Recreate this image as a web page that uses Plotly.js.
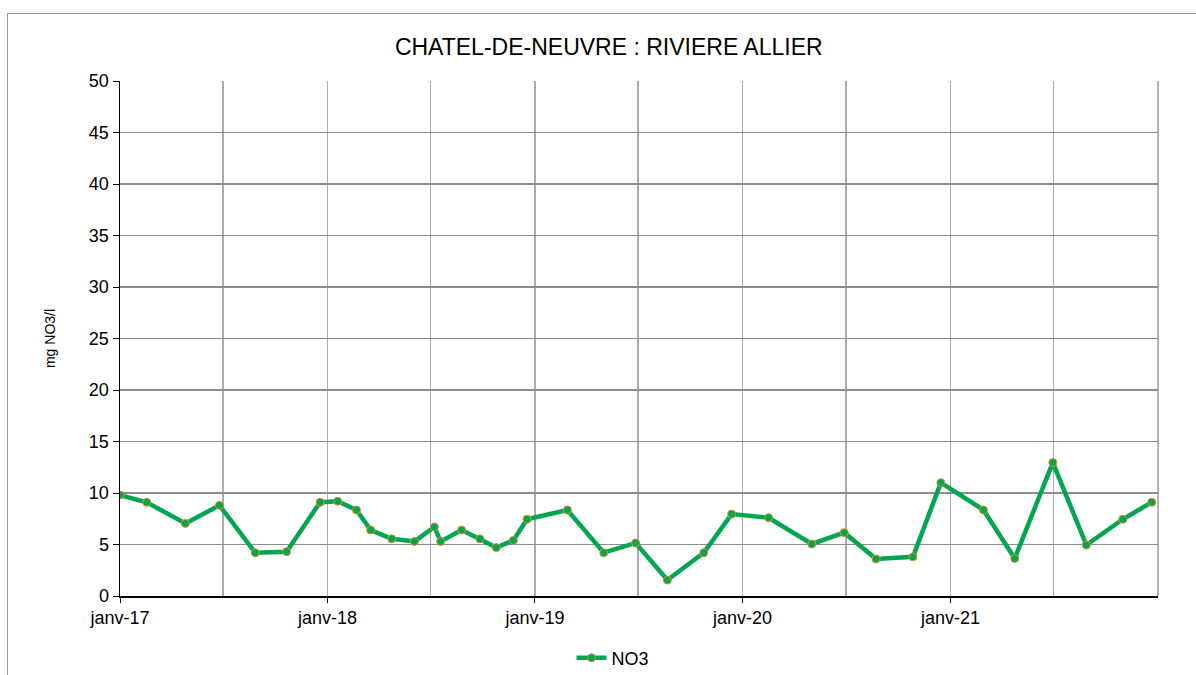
<!DOCTYPE html>
<html>
<head>
<meta charset="utf-8">
<script src="https://cdn.plot.ly/plotly-3.0.1.min.js"></script>
<style>
html,body{margin:0;padding:0;background:#fff;}
#wrap{position:relative;width:1196px;height:675px;overflow:hidden;}
#chart{width:1196px;height:675px;}
#frame{position:absolute;left:7px;top:13px;width:1220px;height:720px;border:1px solid #9a9a9a;pointer-events:none;}
</style>
</head>
<body>
<div id="wrap"><div id="chart"></div><div id="frame"></div></div>
<script>
const dates = [
  '2017-01-01','2017-02-17','2017-04-26','2017-06-25','2017-08-27','2017-10-21','2017-12-19',
  '2018-01-19','2018-02-21','2018-03-18','2018-04-24','2018-06-03','2018-07-08','2018-07-19',
  '2018-08-25','2018-09-26','2018-10-25','2018-11-24','2018-12-18',
  '2019-02-27','2019-05-02','2019-06-27','2019-08-22','2019-10-25','2019-12-13',
  '2020-02-16','2020-05-02','2020-06-28','2020-08-23','2020-10-27','2020-12-15',
  '2021-02-28','2021-04-24','2021-06-30','2021-08-28','2021-10-31','2021-12-21'
];
const no3 = [
  9.8, 9.1, 7.05, 8.8, 4.2, 4.3, 9.1,
  9.2, 8.35, 6.4, 5.55, 5.3, 6.7, 5.3,
  6.4, 5.55, 4.7, 5.4, 7.45,
  8.35, 4.2, 5.15, 1.55, 4.2, 7.95,
  7.6, 5.05, 6.15, 3.6, 3.8, 11.0,
  8.35, 3.65, 12.95, 4.95, 7.45, 9.1
];
const xTickVals = ['2017-01-01','2018-01-01','2019-01-01','2020-01-01','2021-01-01'];
const xTickText = ['janv-17','janv-18','janv-19','janv-20','janv-21'];
const yTickVals = [0,5,10,15,20,25,30,35,40,45,50];

const font = 'Liberation Sans, Arial, sans-serif';

const trace = {
  x: dates, y: no3, type: 'scatter', mode: 'lines+markers', name: 'NO3',
  line: {color: '#00A650', width: 4.5},
  marker: {color: '#00A650', size: 8, line: {color: '#E8892E', width: 1}}
};

const layout = {
  width: 1196, height: 675,
  paper_bgcolor: 'rgba(0,0,0,0)', plot_bgcolor: '#fff',
  margin: {l: 120, r: 38, t: 81, b: 79, autoexpand: false},
  font: {family: font, color: '#000', size: 18},
  title: {text: 'CHATEL-DE-NEUVRE : RIVIERE ALLIER', font: {family: font, size: 23, color: '#000'},
          x: 0.509, xanchor: 'center', xref: 'container', y: 0.93, yanchor: 'middle'},
  xaxis: {
    type: 'date', range: ['2017-01-01','2022-01-01'],
    tickmode: 'array', tickvals: xTickVals, ticktext: xTickText,
    ticks: 'outside', ticklen: 5, tickcolor: '#000',
    showline: true, linecolor: '#000', linewidth: 1.5, mirror: false,
    showgrid: true, gridcolor: '#acacac', gridwidth: 1.3,
    minor: {dtick: 'M6', tick0: '2017-01-01', showgrid: true, gridcolor: '#acacac', gridwidth: 1.3, ticks: ''},
    zeroline: false, tickfont: {size: 18, family: font}
  },
  yaxis: {
    range: [0, 50], tickmode: 'array', tickvals: yTickVals,
    ticks: 'outside', ticklen: 6, tickcolor: '#000',
    showline: true, linecolor: '#000', linewidth: 1.5,
    showgrid: true, gridcolor: '#8c8c8c', gridwidth: 1.3, zeroline: false,
    tickfont: {size: 18, family: font},
    title: {text: 'mg NO3/l', font: {size: 14, family: font}, standoff: 30}
  },
  shapes: [
    {type: 'line', xref: 'paper', yref: 'paper', x0: 1, x1: 1, y0: 0, y1: 1, line: {color: '#8c8c8c', width: 1.3}}
  ],
  showlegend: true,
  legend: {orientation: 'h', x: 0.475, xanchor: 'center', yref: 'container', y: 0.025, yanchor: 'middle',
           font: {size: 18, family: font}, bgcolor: 'rgba(0,0,0,0)'}
};

Plotly.newPlot('chart', [trace], layout, {displayModeBar: false, staticPlot: true});
</script>
</body>
</html>
